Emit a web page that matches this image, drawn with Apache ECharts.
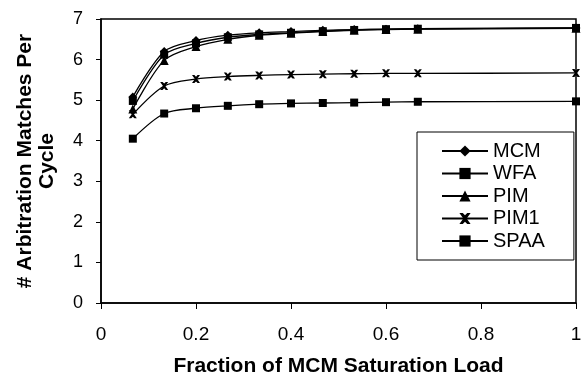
<!DOCTYPE html>
<html>
<head>
<meta charset="utf-8">
<script src="https://cdn.jsdelivr.net/npm/echarts@6/dist/echarts.min.js"></script>
<style>
  html, body {margin: 0; padding: 0; background: #fff;}
  #chart {width: 581px; height: 378px;}
</style>
</head>
<body>
<div id="chart"></div>
<script>
const loads = [0.067, 0.133, 0.2, 0.267, 0.333, 0.4, 0.467, 0.533, 0.6, 0.667, 1.0]
const mcm = [5.08, 6.2, 6.47, 6.6, 6.66, 6.69, 6.72, 6.74, 6.75, 6.76, 6.78]
const wfa = [4.98, 6.12, 6.4, 6.55, 6.62, 6.66, 6.7, 6.73, 6.75, 6.76, 6.78]
const pim = [4.78, 5.98, 6.32, 6.5, 6.6, 6.65, 6.69, 6.72, 6.74, 6.75, 6.77]
const pim1 = [4.65, 5.35, 5.52, 5.58, 5.61, 5.63, 5.64, 5.65, 5.66, 5.66, 5.67]
const spaa = [4.05, 4.67, 4.8, 4.86, 4.9, 4.92, 4.93, 4.94, 4.95, 4.96, 4.97]
const xTicks = [0, 0.2, 0.4, 0.6, 0.8, 1]
const yTicks = [0, 1, 2, 3, 4, 5, 6, 7]

const xMark = 'path://M0,0 L3,0 L5,2 L7,0 L10,0 L6.5,5 L10,10 L7,10 L5,8 L3,10 L0,10 L3.5,5 Z'

const font = 'Liberation Sans, Arial, sans-serif'
const myChart = echarts.init(document.getElementById('chart'))

const pairs = arr => loads.map((x, i) => [x, arr[i]])

const option = {
    animation: false,
    textStyle: {fontFamily: font},
    grid: {
        left: 101,
        right: 5,
        top: 19,
        bottom: 75,
        outerBoundsMode: 'none',
        containLabel: false,
        show: true,
        borderColor: '#000',
        borderWidth: 1.5
    },
    legend: {
        orient: 'vertical',
        left: 417,
        top: 132,
        padding: [8, 29, 8, 24],
        itemWidth: 46,
        itemHeight: 14,
        itemGap: 0.5,
        borderColor: '#000',
        borderWidth: 1,
        backgroundColor: '#fff',
        textStyle: {fontSize: 20, lineHeight: 22, color: '#000', fontFamily: font},
        data: ['MCM', 'WFA', 'PIM', 'PIM1', 'SPAA']
    },
    xAxis: {
        type: 'value',
        min: 0,
        max: 1,
        interval: 0.2,
        name: 'Fraction of MCM Saturation Load',
        nameLocation: 'middle',
        nameGap: 53,
        nameTextStyle: {fontSize: 21, fontWeight: 'bold', color: '#000'},
        axisLine: {show: true, lineStyle: {color: '#000', width: 1.5}},
        axisTick: {show: true, length: 6, lineStyle: {color: '#000'}},
        splitLine: {show: false},
        axisLabel: {
            fontSize: 19,
            color: '#000',
            margin: 22,
            formatter: v => xTicks.includes(+v.toFixed(1)) ? String(+v.toFixed(1)) : ''
        }
    },
    yAxis: {
        type: 'value',
        min: 0,
        max: 7,
        interval: 1,
        name: '# Arbitration Matches Per\nCycle',
        nameLocation: 'middle',
        nameGap: 43,
        nameTextStyle: {fontSize: 21, fontWeight: 'bold', color: '#000', lineHeight: 22},
        axisLine: {show: true, lineStyle: {color: '#000', width: 1.5}},
        axisTick: {show: true, length: 5, lineStyle: {color: '#000'}},
        splitLine: {show: false},
        axisLabel: {
            fontSize: 18,
            color: '#000',
            margin: 18,
            formatter: v => yTicks.includes(v) ? String(v) : ''
        }
    },
    series: [
        {name: 'MCM', symbol: 'diamond', symbolSize: 9, data: pairs(mcm)},
        {name: 'WFA', symbol: 'rect', symbolSize: 8, data: pairs(wfa)},
        {name: 'PIM', symbol: 'triangle', symbolSize: 9, data: pairs(pim)},
        {name: 'PIM1', symbol: xMark, symbolSize: 8, data: pairs(pim1)},
        {name: 'SPAA', symbol: 'rect', symbolSize: 8, data: pairs(spaa)}
    ].map(obj => {
        return {
            ...obj,
            type: 'line',
            smooth: 0.3,
            showAllSymbol: true,
            color: '#000',
            itemStyle: {color: '#000'},
            lineStyle: {color: '#000', width: 1.3}
        }
    })
}
myChart.setOption(option)
</script>
</body>
</html>
